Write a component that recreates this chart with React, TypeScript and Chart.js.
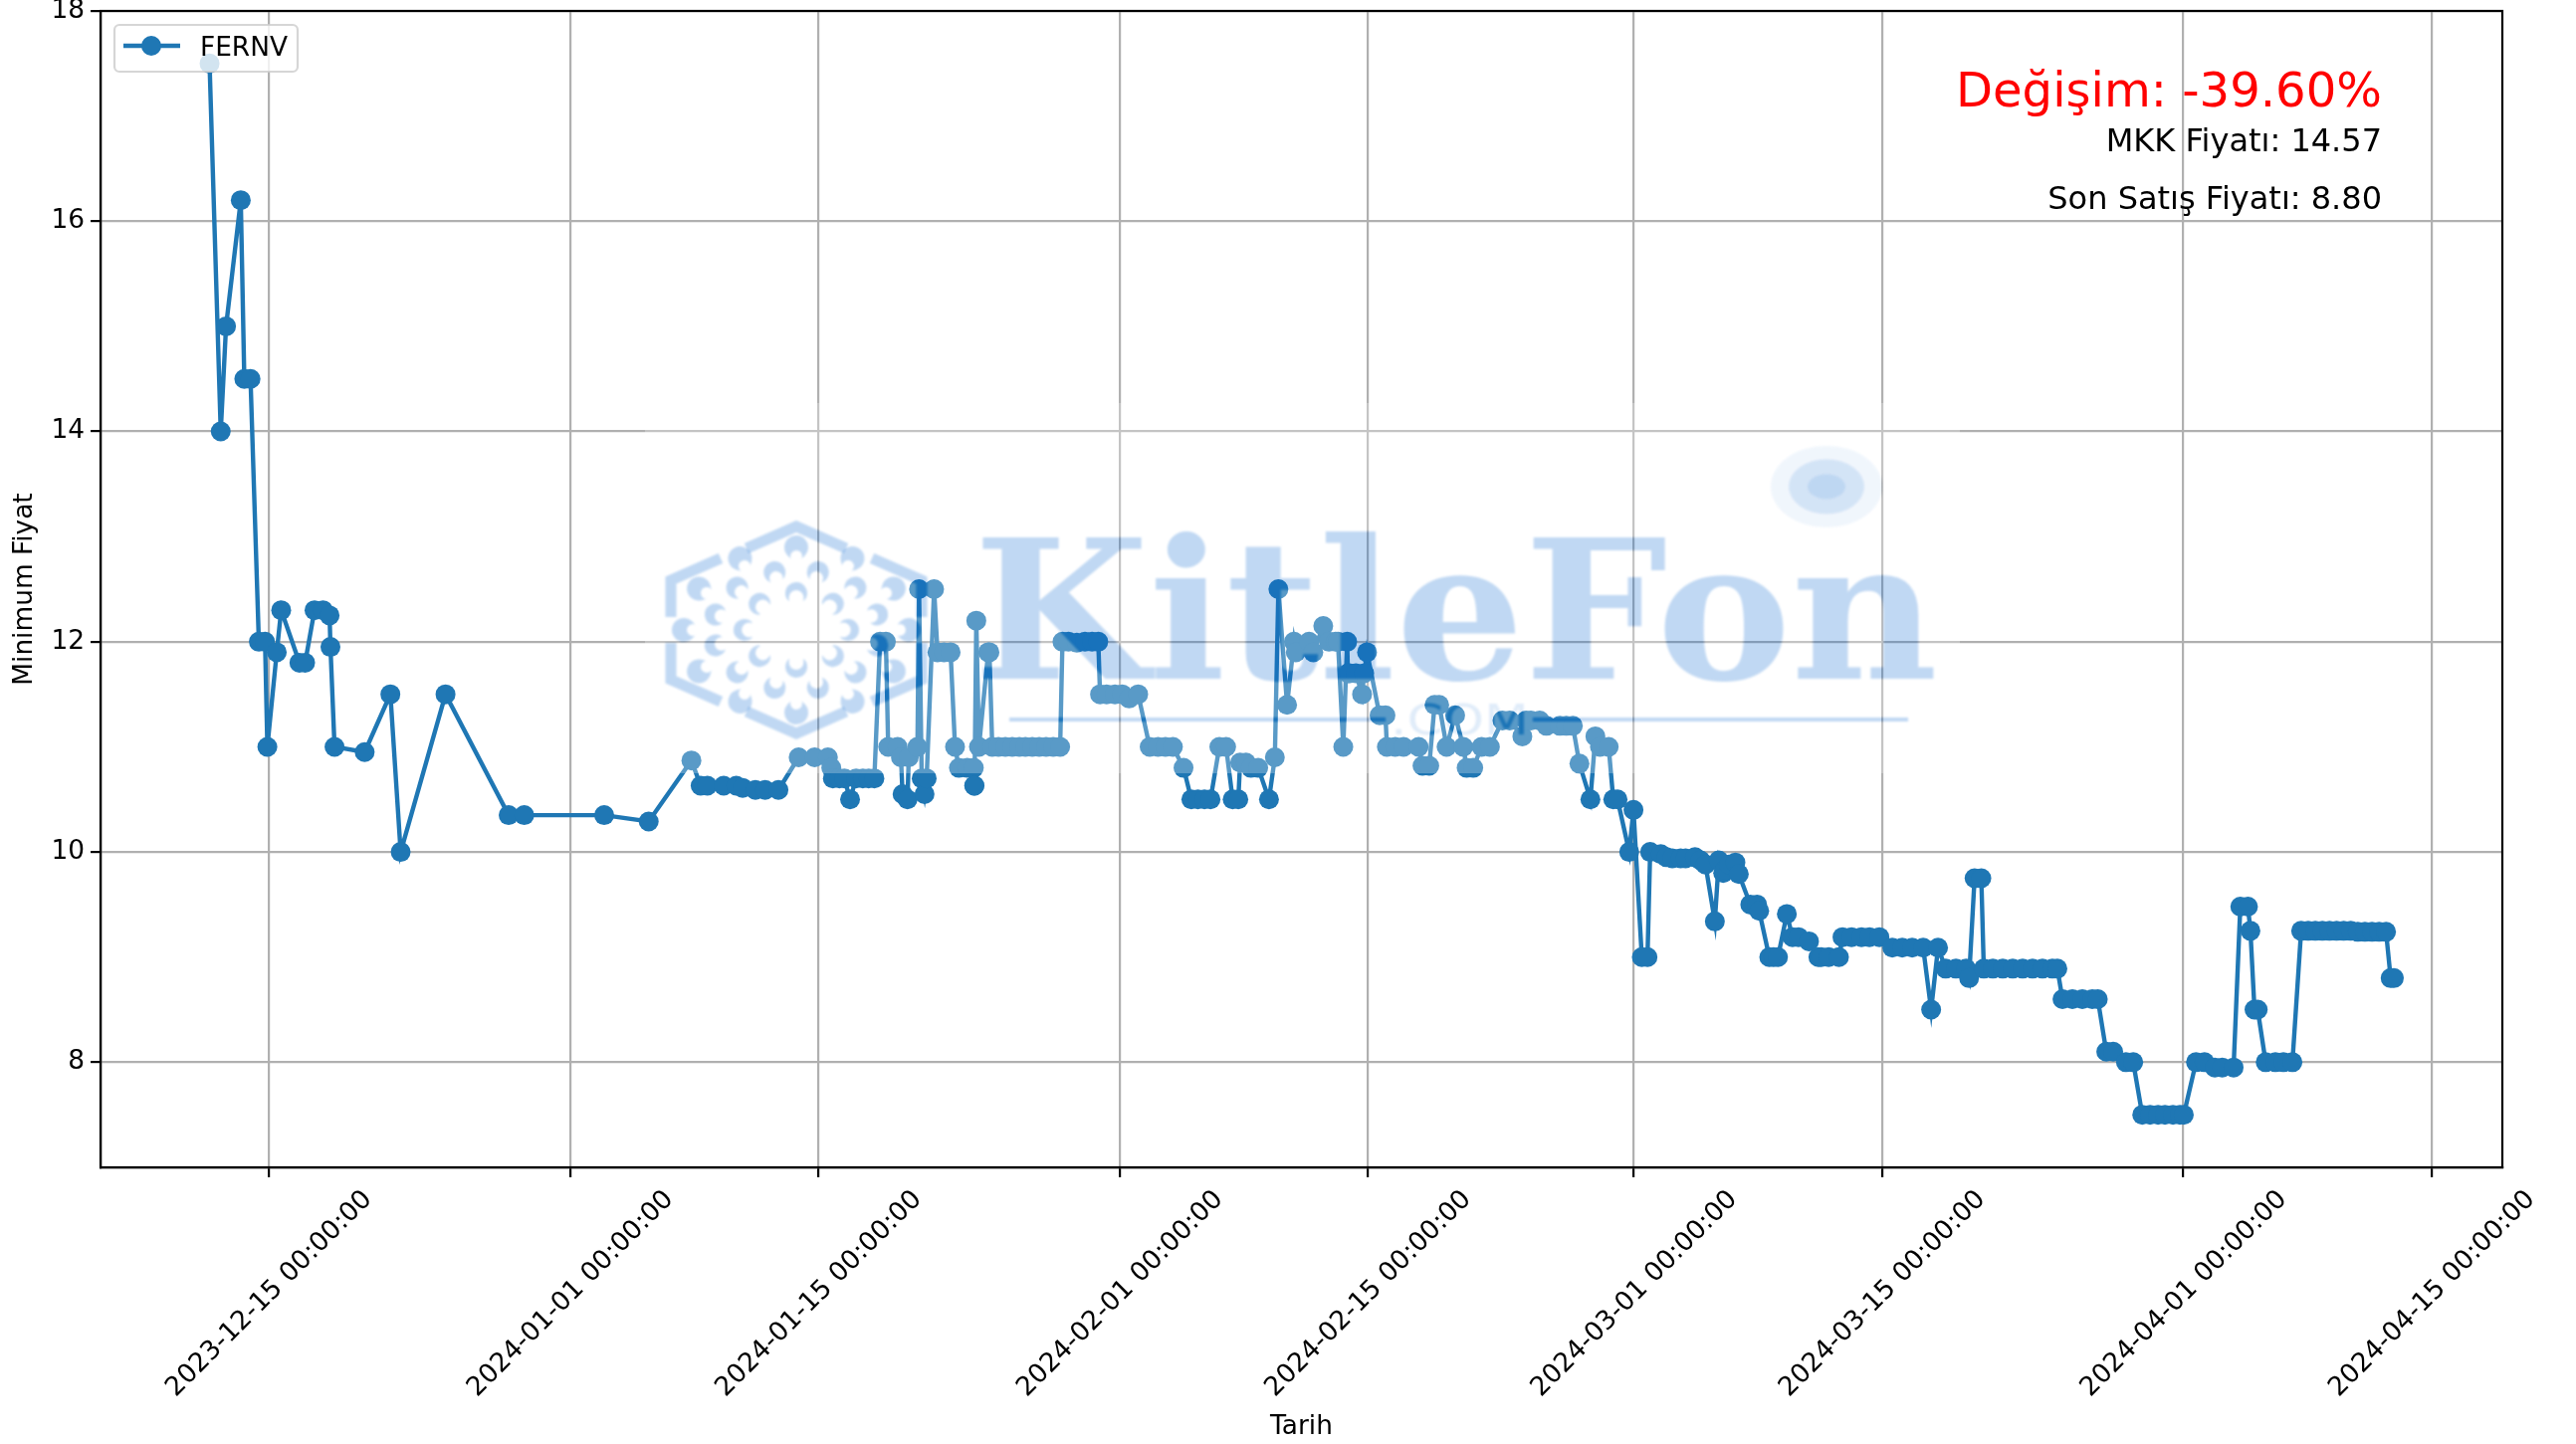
import React, { useEffect, useRef } from "react";
import { Chart, registerables } from "chart.js";

Chart.register(...registerables);

// Days since 2023-12-15 and the minimum price at that moment
const days = [
  -3.33, -2.7, -2.4, -1.57, -1.37, -1.02, -0.55, -0.2, -0.07, 0.46, 0.71, 1.74, 2.06, 2.59, 3.07, 3.44, 3.49, 3.72,
  5.42, 6.87, 7.45, 9.98, 13.54, 14.42, 18.93, 21.44, 23.85, 24.37, 24.75, 25.67, 26.38, 26.74, 27.46, 28.01, 28.76,
  29.9, 30.8, 31.55, 31.74, 31.83, 32.2, 32.48, 32.8, 33.14, 33.52, 33.85, 34.17, 34.49, 34.82, 34.95, 35.48, 35.67,
  35.76, 36.04, 36.11, 36.6, 36.69, 36.84, 37.0, 37.12, 37.54, 37.73, 38.1, 38.47, 38.72, 38.94, 39.41, 39.78, 39.8,
  39.82, 39.92, 40.07, 40.59, 40.66, 40.82, 41.17, 41.56, 41.95, 42.35, 42.69, 43.08, 43.47, 43.86, 44.26, 44.65,
  44.78, 45.12, 45.59, 46.05, 46.45, 46.8, 46.9, 47.27, 47.74, 48.15, 48.54, 49.05, 49.7, 50.17, 50.59, 51.01, 51.61,
  52.05, 52.42, 52.79, 53.13, 53.63, 54.01, 54.38, 54.7, 54.8, 55.13, 55.41, 55.82, 56.43, 56.76, 56.96, 57.45, 57.84,
  57.94, 58.69, 58.93, 59.49, 59.81, 60.19, 60.32, 60.62, 60.84, 60.88, 60.97, 61.33, 61.68, 61.8, 61.96, 62.67, 63.0,
  63.08, 63.55, 64.02, 64.87, 65.09, 65.47, 65.77, 66.03, 66.45, 66.93, 67.39, 67.58, 67.95, 68.42, 68.89, 69.6, 70.01,
  70.72, 70.93, 71.2, 71.7, 72.08, 72.84, 73.2, 73.57, 73.94, 74.56, 74.84, 75.1, 75.59, 75.85, 76.09, 76.75, 76.99,
  77.46, 77.78, 77.93, 78.53, 78.85, 79.18, 79.65, 79.93, 80.46, 80.77, 81.05, 81.58, 81.8, 82.05, 82.15, 82.37, 82.74,
  82.93, 83.58, 83.96, 84.08, 84.65, 84.89, 85.14, 85.64, 85.96, 86.3, 86.89, 87.42, 87.58, 88.0, 88.58, 88.78, 89.29,
  89.85, 90.3, 90.86, 91.59, 92.15, 92.71, 93.33, 93.78, 94.17, 94.6, 95.18, 95.75, 95.92, 96.23, 96.61, 96.75, 97.26,
  97.82, 98.38, 98.94, 99.5, 100.06, 100.62, 100.9, 101.19, 101.75, 102.31, 102.87, 103.18, 103.66, 104.05, 104.77,
  105.18, 105.69, 106.13, 106.58, 106.97, 107.42, 107.81, 108.03, 108.72, 109.2, 109.78, 110.2, 110.84, 111.22, 111.65,
  111.79, 112.02, 112.2, 112.65, 113.2, 113.65, 114.16, 114.65, 115.05, 115.45, 115.85, 116.25, 116.65, 117.05, 117.45,
  117.85, 118.25, 118.65, 119.05, 119.44, 119.7, 119.88,
];
const prices = [
  17.5, 14, 15, 16.2, 14.5, 14.5, 12, 12, 11, 11.9, 12.3, 11.8, 11.8, 12.3, 12.3, 12.25, 11.95, 11,
  10.95, 11.5, 10, 11.5, 10.35, 10.35, 10.35, 10.29, 10.87, 10.63, 10.63, 10.63, 10.63, 10.61, 10.59, 10.59, 10.59,
  10.9, 10.9, 10.9, 10.8, 10.7, 10.7, 10.7, 10.5, 10.7, 10.7, 10.7, 10.7, 12, 12, 11, 11, 10.9,
  10.55, 10.5, 10.9, 11, 12.5, 10.7, 10.55, 10.7, 12.5, 11.9, 11.9, 11.9, 11, 10.8, 10.8, 10.8, 10.63,
  10.63, 12.2, 11, 11.9, 11.9, 11, 11, 11, 11, 11, 11, 11, 11, 11, 11, 11,
  12, 12, 11.99, 12, 12, 12, 11.5, 11.5, 11.5, 11.5, 11.46, 11.5, 11, 11, 11, 11, 10.8,
  10.5, 10.5, 10.5, 10.5, 11, 11, 10.5, 10.5, 10.85, 10.85, 10.8, 10.8, 10.5, 10.9, 12.5, 11.4, 12,
  11.9, 12, 11.9, 12.15, 12, 12, 12, 11, 12, 11.7, 11.7, 11.7, 11.5, 11.7, 11.9, 11.3, 11.3,
  11, 11, 11, 11, 10.82, 10.82, 11.4, 11.4, 11, 11.3, 11, 10.8, 10.8, 11, 11, 11.25, 11.25,
  11.1, 11.25, 11.25, 11.25, 11.2, 11.2, 11.2, 11.2, 10.84, 10.5, 11.1, 11, 11, 10.5, 10.5, 10, 10.4,
  9, 9, 10, 9.98, 9.95, 9.94, 9.94, 9.94, 9.95, 9.92, 9.88, 9.34, 9.92, 9.8, 9.83, 9.88, 9.9,
  9.79, 9.5, 9.5, 9.44, 9, 9, 9, 9.41, 9.19, 9.19, 9.15, 9, 9, 9, 9, 9.19, 9.19,
  9.19, 9.19, 9.19, 9.09, 9.09, 9.09, 9.09, 8.5, 9.09, 8.89, 8.89, 8.89, 8.8, 9.75, 9.75, 8.89, 8.89,
  8.89, 8.89, 8.89, 8.89, 8.89, 8.89, 8.89, 8.6, 8.6, 8.6, 8.6, 8.6, 8.1, 8.1, 8,
  8, 7.5, 7.5, 7.5, 7.5, 7.5, 7.5, 7.5, 8, 8, 7.95, 7.95, 7.95, 9.48, 9.48,
  9.25, 8.5, 8.5, 8, 8, 8, 8, 9.25, 9.25, 9.25, 9.25, 9.25, 9.25, 9.25, 9.25,
  9.24, 9.24, 9.24, 9.24, 9.24, 8.8, 8.8,
];

const xTickDays = [0, 17, 31, 48, 62, 77, 91, 108, 122];
const xTickLabels = [
  "2023-12-15 00:00:00",
  "2024-01-01 00:00:00",
  "2024-01-15 00:00:00",
  "2024-02-01 00:00:00",
  "2024-02-15 00:00:00",
  "2024-03-01 00:00:00",
  "2024-03-15 00:00:00",
  "2024-04-01 00:00:00",
  "2024-04-15 00:00:00",
];
const yTicks = [8, 10, 12, 14, 16, 18];

const seriesName = "FERNV";
const xTitle = "Tarih";
const yTitle = "Minimum Fiyat";
const changeText = "Değişim: -39.60%";
const mkkText = "MKK Fiyatı: 14.57";
const lastText = "Son Satış Fiyatı: 8.80";
const watermarkName = "KitleFon";
const watermarkSuffix = ".COM";

const FONT = '"DejaVu Sans"';
const BLUE = "#1f77b4";
const LABEL_SIZE = 26.4;

function crescent(ctx: CanvasRenderingContext2D, cx: number, cy: number, r: number, th: number, inner: number, shift: number) {
  const span = 2.3;
  ctx.beginPath();
  ctx.arc(cx, cy, r, th - span, th + span);
  ctx.arc(cx - Math.cos(th) * r * shift, cy - Math.sin(th) * r * shift, r * inner, th + 2.0, th - 2.0, true);
  ctx.closePath();
  ctx.fill();
}

function watermarkShapes(ctx: CanvasRenderingContext2D, paint: (a: number) => string) {
  const c = paint(0.25);
  ctx.fillStyle = c;
  ctx.strokeStyle = c;
  // hexagon outline
  const bands = [
    [[750, 551], [800, 529], [850, 551]],
    [[876, 561], [926, 583], [926, 620]],
    [[926, 646], [926, 683], [876, 705]],
    [[850, 715], [800, 737], [750, 715]],
    [[724, 705], [674, 683], [674, 646]],
    [[674, 620], [674, 583], [724, 561]],
  ];
  ctx.lineWidth = 11;
  ctx.lineJoin = "miter";
  for (const b of bands) {
    ctx.beginPath();
    ctx.moveTo(b[0][0], b[0][1]);
    ctx.lineTo(b[1][0], b[1][1]);
    ctx.lineTo(b[2][0], b[2][1]);
    ctx.stroke();
  }
  const cx = 800;
  const cy = 633;
  const rings = [
    { n: 12, rx: 113, ry: 83, off: 0, r: 12, inner: 0.5, shift: 0.75 },
    { n: 12, rx: 84, ry: 60, off: Math.PI / 12, r: 11, inner: 0.62, shift: 0.55 },
    { n: 8, rx: 52, ry: 37, off: 0, r: 11, inner: 0.68, shift: 0.42 },
  ];
  for (const ring of rings) {
    for (let i = 0; i < ring.n; i++) {
      const a = ring.off + (i * 2 * Math.PI) / ring.n;
      crescent(ctx, cx + ring.rx * Math.cos(a), cy + ring.ry * Math.sin(a), ring.r, a, ring.inner, ring.shift);
    }
  }
  // wordmark
  ctx.textAlign = "left";
  ctx.textBaseline = "alphabetic";
  ctx.font = 'bold 195px "DejaVu Serif"';
  const w = ctx.measureText(watermarkName).width;
  ctx.save();
  ctx.translate(978, 682);
  ctx.scale(969 / w, 1);
  ctx.fillText(watermarkName, 0, 0);
  ctx.restore();
  // underline
  ctx.lineWidth = 4;
  ctx.beginPath();
  ctx.moveTo(1014, 723);
  ctx.lineTo(1392, 723);
  ctx.moveTo(1540, 723);
  ctx.lineTo(1917, 723);
  ctx.stroke();
  // suffix
  ctx.fillStyle = paint(0.12);
  ctx.font = `42px ${FONT}`;
  const sw = ctx.measureText(watermarkSuffix).width;
  ctx.save();
  ctx.translate(1397, 738);
  ctx.scale(139 / sw, 1);
  ctx.fillText(watermarkSuffix, 0, 0);
  ctx.restore();
  // sun
  const discs = [
    { rx: 56, ry: 41, a: 0.06 },
    { rx: 38, ry: 27.5, a: 0.12 },
    { rx: 19, ry: 12.5, a: 0.1 },
  ];
  for (const d of discs) {
    ctx.fillStyle = paint(d.a);
    ctx.beginPath();
    ctx.ellipse(1835, 489, d.rx, d.ry, 0, 0, Math.PI * 2);
    ctx.fill();
  }
}

const overlayPlugin = {
  id: "overlay",
  afterDraw(chart: any) {
    const ctx: CanvasRenderingContext2D = chart.ctx;
    const { left, right, top, bottom } = chart.chartArea;

    // watermark laid over the plot
    const off = document.createElement("canvas");
    off.width = chart.width;
    off.height = chart.height;
    const o = off.getContext("2d")!;
    o.fillStyle = "rgba(255,255,255,0.26)";
    o.fillRect(648, 405, 1321, 372);
    (o as any).filter = "blur(1px)";
    o.globalCompositeOperation = "destination-out";
    watermarkShapes(o, () => "rgba(0,0,0,1)");
    o.globalCompositeOperation = "source-over";
    watermarkShapes(o, (a) => `rgba(3,100,207,${a})`);
    ctx.drawImage(off, 0, 0);

    // frame
    ctx.save();
    ctx.strokeStyle = "#000";
    ctx.lineWidth = 2.2;
    ctx.strokeRect(left, top, right - left, bottom - top);

    // legend
    ctx.beginPath();
    ctx.roundRect(115, 25, 184, 47, 5);
    ctx.fillStyle = "rgba(255,255,255,0.8)";
    ctx.fill();
    ctx.strokeStyle = "rgba(204,204,204,0.8)";
    ctx.lineWidth = 2.2;
    ctx.stroke();
    ctx.strokeStyle = BLUE;
    ctx.lineWidth = 4.4;
    ctx.beginPath();
    ctx.moveTo(124, 46);
    ctx.lineTo(181, 46);
    ctx.stroke();
    ctx.fillStyle = BLUE;
    ctx.beginPath();
    ctx.arc(152, 46, 10, 0, Math.PI * 2);
    ctx.fill();
    ctx.fillStyle = "#000";
    ctx.font = `${LABEL_SIZE}px ${FONT}`;
    ctx.textAlign = "left";
    ctx.textBaseline = "alphabetic";
    ctx.fillText(seriesName, 201, 56);

    // annotations
    ctx.textAlign = "right";
    ctx.fillStyle = "#ff0000";
    ctx.font = `48.1px ${FONT}`;
    ctx.fillText(changeText, 2393, 107);
    ctx.fillStyle = "#000";
    ctx.font = `32px ${FONT}`;
    ctx.fillText(mkkText, 2393, 152);
    ctx.fillText(lastText, 2393, 210);
    ctx.restore();
  },
};

export default function App() {
  const ref = useRef<HTMLCanvasElement>(null);
  useEffect(() => {
    const chart = new Chart(ref.current!, {
      type: "line",
      data: {
        datasets: [
          {
            label: seriesName,
            data: days.map((d, i) => ({ x: d, y: prices[i] })),
            borderColor: BLUE,
            backgroundColor: BLUE,
            borderWidth: 4.4,
            pointRadius: 10,
            pointBorderWidth: 0,
            pointBackgroundColor: BLUE,
            tension: 0,
          },
        ],
      },
      options: {
        animation: false,
        responsive: false,
        devicePixelRatio: 1,
        layout: { padding: { top: 11, right: 74, left: 0, bottom: 0 } },
        plugins: { legend: { display: false }, tooltip: { enabled: false } },
        scales: {
          x: {
            type: "linear",
            min: -9.48,
            max: 126,
            afterBuildTicks: (s: any) => {
              s.ticks = xTickDays.map((value) => ({ value }));
            },
            afterFit: (s: any) => {
              s.height = 278;
              s.paddingLeft = 0;
              s.paddingRight = 0;
            },
            grid: { color: "#b0b0b0", lineWidth: 2.2, tickColor: "#000", tickLength: 10, tickWidth: 2.2 },
            border: { color: "#000", width: 2.2 },
            ticks: {
              autoSkip: false,
              minRotation: 45,
              maxRotation: 45,
              labelOffset: 100,
              padding: 7,
              color: "#000",
              font: { family: "DejaVu Sans", size: LABEL_SIZE },
              callback: (v: any) => xTickLabels[xTickDays.indexOf(v)] ?? "",
            },
            title: {
              display: true,
              text: xTitle,
              color: "#000",
              font: { family: "DejaVu Sans", size: LABEL_SIZE },
              padding: { top: 0, bottom: 1 },
            },
          },
          y: {
            type: "linear",
            min: 7,
            max: 18,
            afterBuildTicks: (s: any) => {
              s.ticks = yTicks.map((value) => ({ value }));
            },
            afterFit: (s: any) => {
              s.width = 101;
              s.paddingTop = 0;
              s.paddingBottom = 0;
            },
            grid: { color: "#b0b0b0", lineWidth: 2.2, tickColor: "#000", tickLength: 10, tickWidth: 2.2 },
            border: { color: "#000", width: 2.2 },
            ticks: {
              padding: 6,
              color: "#000",
              font: { family: "DejaVu Sans", size: LABEL_SIZE },
              callback: (v: any) => String(v),
            },
            title: {
              display: true,
              text: yTitle,
              color: "#000",
              font: { family: "DejaVu Sans", size: LABEL_SIZE },
              padding: { top: 9, bottom: 0 },
            },
          },
        },
      },
      plugins: [overlayPlugin],
    } as any);
    return () => chart.destroy();
  }, []);
  return (
    <canvas
      ref={ref}
      width={2588}
      height={1451}
      style={{ position: "absolute", left: 0, top: 0, width: 2588, height: 1451, display: "block" }}
    />
  );
}
